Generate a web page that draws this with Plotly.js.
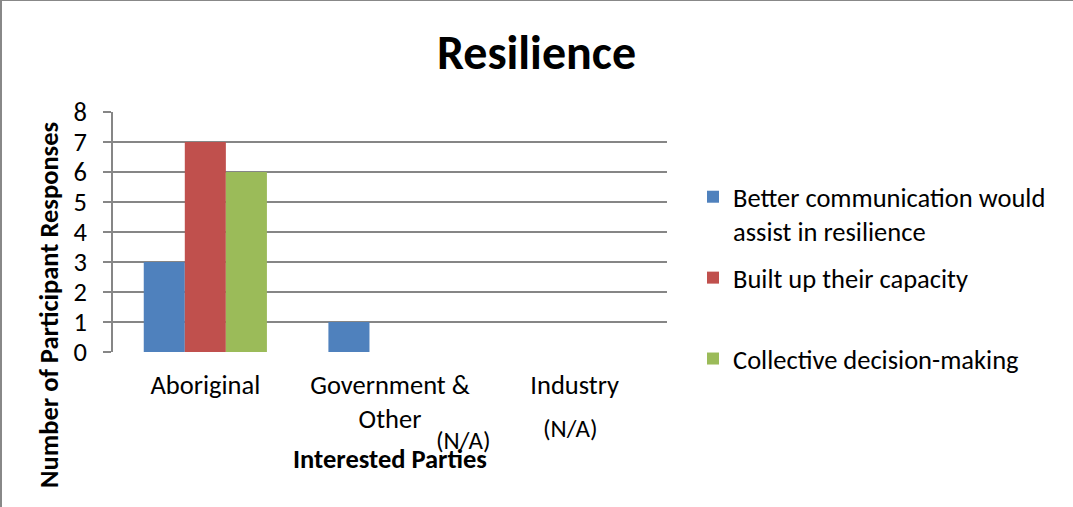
<!DOCTYPE html>
<html>
<head>
<meta charset="utf-8">
<script src="https://cdn.plot.ly/plotly-3.0.1.min.js"></script>
<style>
  html, body { margin: 0; padding: 0; background: #fff; }
  #wrap { position: relative; width: 1073px; height: 507px; }
  #chart { width: 1073px; height: 507px; }
  #frame { position: absolute; left: 0; top: 0; width: 1073px; height: 507px;
           box-sizing: border-box; border-left: 2px solid #888; border-top: 1px solid #888;
           pointer-events: none; }
</style>
</head>
<body>
<div id="wrap"><div id="chart"></div><div id="frame"></div></div>
<script>
const categories = ["Aboriginal", "Government &<br>Other", "Industry"];
const seriesNames = ["Better communication would<br>assist in resilience", "Built up their capacity<br> ", "Collective decision-making"];
const betterCommunication = [3, 1, 0];
const builtCapacity = [7, 0, 0];
const collectiveDecision = [6, 0, 0];
const seriesColors = ["#4F81BD", "#C0504D", "#9BBB59"];
const yTicks = [0, 1, 2, 3, 4, 5, 6, 7, 8];
const naNotes = ["(N/A)", "(N/A)"];

const FONT = "Carlito, Calibri, Lato, 'Liberation Sans', sans-serif";
const FS = 26.5;
const values = [betterCommunication, builtCapacity, collectiveDecision];

const traces = values.map((v, i) => ({
  type: "bar",
  name: seriesNames[i],
  x: categories,
  y: v,
  marker: { color: seriesColors[i], line: { width: 0 } },
  legendgroup: "g" + i,
  hoverinfo: "y"
}));

// plot area in pixels: x 113..667, y 112..352
const PX = (px) => (px - 113) / 554;
const PY = (py) => (352 - py) / 240;

const layout = {
  width: 1073,
  height: 507,
  margin: { l: 113, r: 406, t: 112, b: 155 },
  paper_bgcolor: "#fff",
  plot_bgcolor: "#fff",
  font: { family: FONT, size: FS, color: "#000" },
  title: {
    text: "<b>Resilience</b>",
    font: { family: FONT, size: 48, color: "#000" },
    x: 0.5, xref: "container", xanchor: "center",
    y: 1 - 52 / 507, yref: "container", yanchor: "middle"
  },
  barmode: "group",
  bargap: 0.333,
  bargroupgap: 0,
  xaxis: {
    type: "category",
    showline: false,
    showgrid: false,
    ticks: "outside",
    ticklen: 9,
    tickcolor: "rgba(0,0,0,0)",
    tickfont: { family: FONT, size: FS },
    title: {
      text: "<b>Interested Parties</b>",
      font: { family: FONT, size: FS },
      standoff: 15
    }
  },
  yaxis: {
    range: [0, 8],
    tickvals: yTicks,
    ticktext: yTicks.map(String),
    showgrid: true,
    gridcolor: "#868686",
    gridwidth: 1.5,
    showline: true,
    linecolor: "#868686",
    linewidth: 1.5,
    ticks: "outside",
    ticklen: 8,
    tickcolor: "#868686",
    tickwidth: 1.5,
    ticklabelstandoff: 11,
    tickfont: { family: FONT, size: FS },
    zeroline: false
  },
  legend: {
    xref: "container", yref: "container",
    x: 693 / 1073, xanchor: "left",
    y: 1 - 173 / 507, yanchor: "top",
    font: { family: FONT, size: FS, color: "#000" },
    valign: "top",
    tracegroupgap: 9,
    traceorder: "grouped",
    bgcolor: "rgba(0,0,0,0)"
  },
  annotations: [
    {
      text: "<b>Number of Participant Responses</b>",
      textangle: -90,
      xref: "paper", yref: "paper",
      x: PX(49), y: PY(305),
      xanchor: "center", yanchor: "middle",
      showarrow: false,
      font: { family: FONT, size: FS, color: "#000" }
    },
    {
      text: naNotes[0],
      xref: "paper", yref: "paper",
      x: PX(463), y: PY(440),
      xanchor: "center", yanchor: "middle",
      showarrow: false,
      font: { family: FONT, size: 25, color: "#000" }
    },
    {
      text: naNotes[1],
      xref: "paper", yref: "paper",
      x: PX(570), y: PY(428),
      xanchor: "center", yanchor: "middle",
      showarrow: false,
      font: { family: FONT, size: 25, color: "#000" }
    }
  ]
};

Plotly.newPlot("chart", traces, layout, { displayModeBar: false });
</script>
</body>
</html>
